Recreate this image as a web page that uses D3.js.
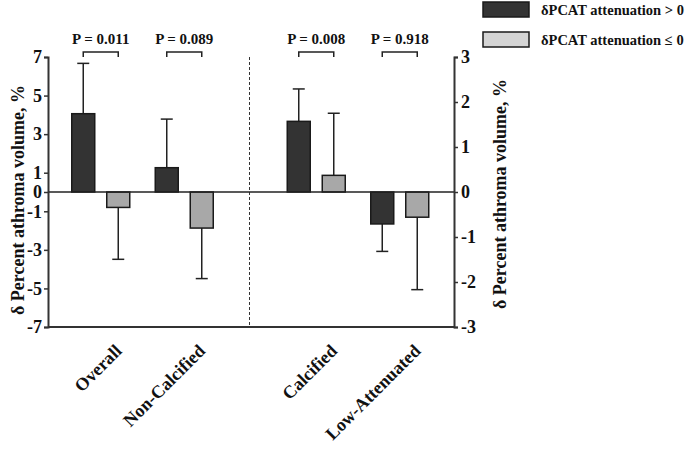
<!DOCTYPE html>
<html><head><meta charset="utf-8">
<script src="https://cdn.jsdelivr.net/npm/d3@7/dist/d3.min.js"></script>
<style>
body{margin:0;background:#fff;}
text{font-family:"Liberation Serif","Times New Roman",serif;font-weight:bold;fill:#111;}
</style></head>
<body><svg id="c" width="685" height="449"></svg>
<script>
const categoriesLeft = ["Overall", "Non-Calcified"];
const categoriesRight = ["Calcified", "Low-Attenuated"];
const series = ["δPCAT attenuation > 0", "δPCAT attenuation ≤ 0"];
// mean values
const meanPos = [4.06, 1.26, 1.57, -0.71];
const meanNeg = [-0.80, -1.87, 0.37, -0.56];
// error bar end values
const errPos = [6.67, 3.78, 2.29, -1.32];
const errNeg = [-3.49, -4.49, 1.75, -2.17];
const pLabels = ["P = 0.011", "P = 0.089", "P = 0.008", "P = 0.918"];
const leftTicks = [7, 5, 3, 1, 0, -1, -3, -5, -7];
const rightTicks = [3, 2, 1, 0, -1, -2, -3];
const yTitle = "δ Percent athroma volume, %";

(function () {
const svg = d3.select("#c");
const plotTop = 57, plotBottom = 327, axL = 48, axR = 454, divX = 249.5;
const yL = d3.scaleLinear().domain([-7, 7]).range([plotBottom, plotTop]);
const yR = d3.scaleLinear().domain([-3, 3]).range([plotBottom, plotTop]);
const xL = d3.scaleBand().domain(categoriesLeft).range([59, 226]);
const xR = d3.scaleBand().domain(categoriesRight).range([274.5, 441.5]);
const x1 = d3.scaleBand().domain(series).range([-29, 29]).paddingInner(12 / 35);
const fills = ["#333333", "#a8a8a8"];
const legendFills = ["#333333", "#d4d4d4"];
const fmt = d => String(d);

const cats = categoriesLeft.concat(categoriesRight);
const rows = cats.map((c, i) => ({
  cat: c,
  xs: i < 2 ? xL : xR,
  y: i < 2 ? yL : yR,
  vals: [meanPos[i], meanNeg[i]],
  errs: [errPos[i], errNeg[i]],
  p: pLabels[i]
}));

svg.append("line").attr("x1", divX).attr("x2", divX).attr("y1", plotTop).attr("y2", plotBottom)
  .attr("stroke", "#333").attr("stroke-width", 1).attr("stroke-dasharray", "3,2");

rows.forEach(r => {
  const cx = r.xs(r.cat) + r.xs.bandwidth() / 2;
  const g = svg.append("g").attr("transform", `translate(${cx},0)`);
  series.forEach((s, j) => {
    const v = r.vals[j], e = r.errs[j];
    const bx = x1(s), bw = x1.bandwidth();
    const mid = bx + bw / 2;
    g.append("line").attr("x1", mid).attr("x2", mid).attr("y1", r.y(v)).attr("y2", r.y(e))
      .attr("stroke", "#222").attr("stroke-width", 1.5);
    g.append("line").attr("x1", mid - 6).attr("x2", mid + 6).attr("y1", r.y(e)).attr("y2", r.y(e))
      .attr("stroke", "#222").attr("stroke-width", 1.5);
    g.append("rect").attr("x", bx).attr("width", bw)
      .attr("y", Math.min(r.y(v), r.y(0))).attr("height", Math.abs(r.y(v) - r.y(0)))
      .attr("fill", fills[j]).attr("stroke", "#1a1a1a").attr("stroke-width", 1.5);
  });
  const m0 = x1(series[0]) + x1.bandwidth() / 2, m1 = x1(series[1]) + x1.bandwidth() / 2;
  g.append("path").attr("d", `M${m0},57V52H${m1}V57`).attr("fill", "none")
    .attr("stroke", "#222").attr("stroke-width", 1.5);
  g.append("text").attr("x", (m0 + m1) / 2).attr("y", 44).attr("text-anchor", "middle")
    .attr("font-size", 15).text(r.p);
  g.append("text").attr("transform", `translate(22,352) rotate(-45)`)
    .attr("text-anchor", "end").attr("font-size", 18).text(r.cat);
});

svg.append("line").attr("x1", axL).attr("x2", axR).attr("y1", yL(0)).attr("y2", yL(0))
  .attr("stroke", "#222").attr("stroke-width", 1.5);
svg.append("line").attr("x1", axL).attr("x2", axR).attr("y1", plotBottom).attr("y2", plotBottom)
  .attr("stroke", "#333").attr("stroke-width", 2);

const gl = svg.append("g").attr("transform", `translate(${axL},0)`)
  .call(d3.axisLeft(yL).tickValues(leftTicks).tickSize(4).tickPadding(2).tickFormat(fmt));
const gr = svg.append("g").attr("transform", `translate(${axR},0)`)
  .call(d3.axisRight(yR).tickValues(rightTicks).tickSize(4).tickPadding(3).tickFormat(fmt));
[gl, gr].forEach(g => {
  g.select(".domain").attr("stroke", "#333").attr("stroke-width", 2);
  g.selectAll(".tick line").attr("stroke", "#333").attr("stroke-width", 1.5);
  g.selectAll(".tick text").attr("font-size", 18).attr("fill", "#111")
    .attr("font-family", "Liberation Serif, serif").attr("font-weight", "bold");
});

svg.append("text").attr("transform", "translate(24,200) rotate(-90)")
  .attr("text-anchor", "middle").attr("font-size", 18).text(yTitle);
svg.append("text").attr("transform", "translate(506,194) rotate(-90)")
  .attr("text-anchor", "middle").attr("font-size", 18).text(yTitle);

series.forEach((s, j) => {
  svg.append("rect").attr("x", 483).attr("y", 2 + j * 30).attr("width", 46).attr("height", 15)
    .attr("fill", legendFills[j]).attr("stroke", "#1a1a1a").attr("stroke-width", 1.5);
  svg.append("text").attr("x", 541).attr("y", 15 + j * 30).attr("font-size", 14.5).text(s);
});
})();
</script></body></html>
